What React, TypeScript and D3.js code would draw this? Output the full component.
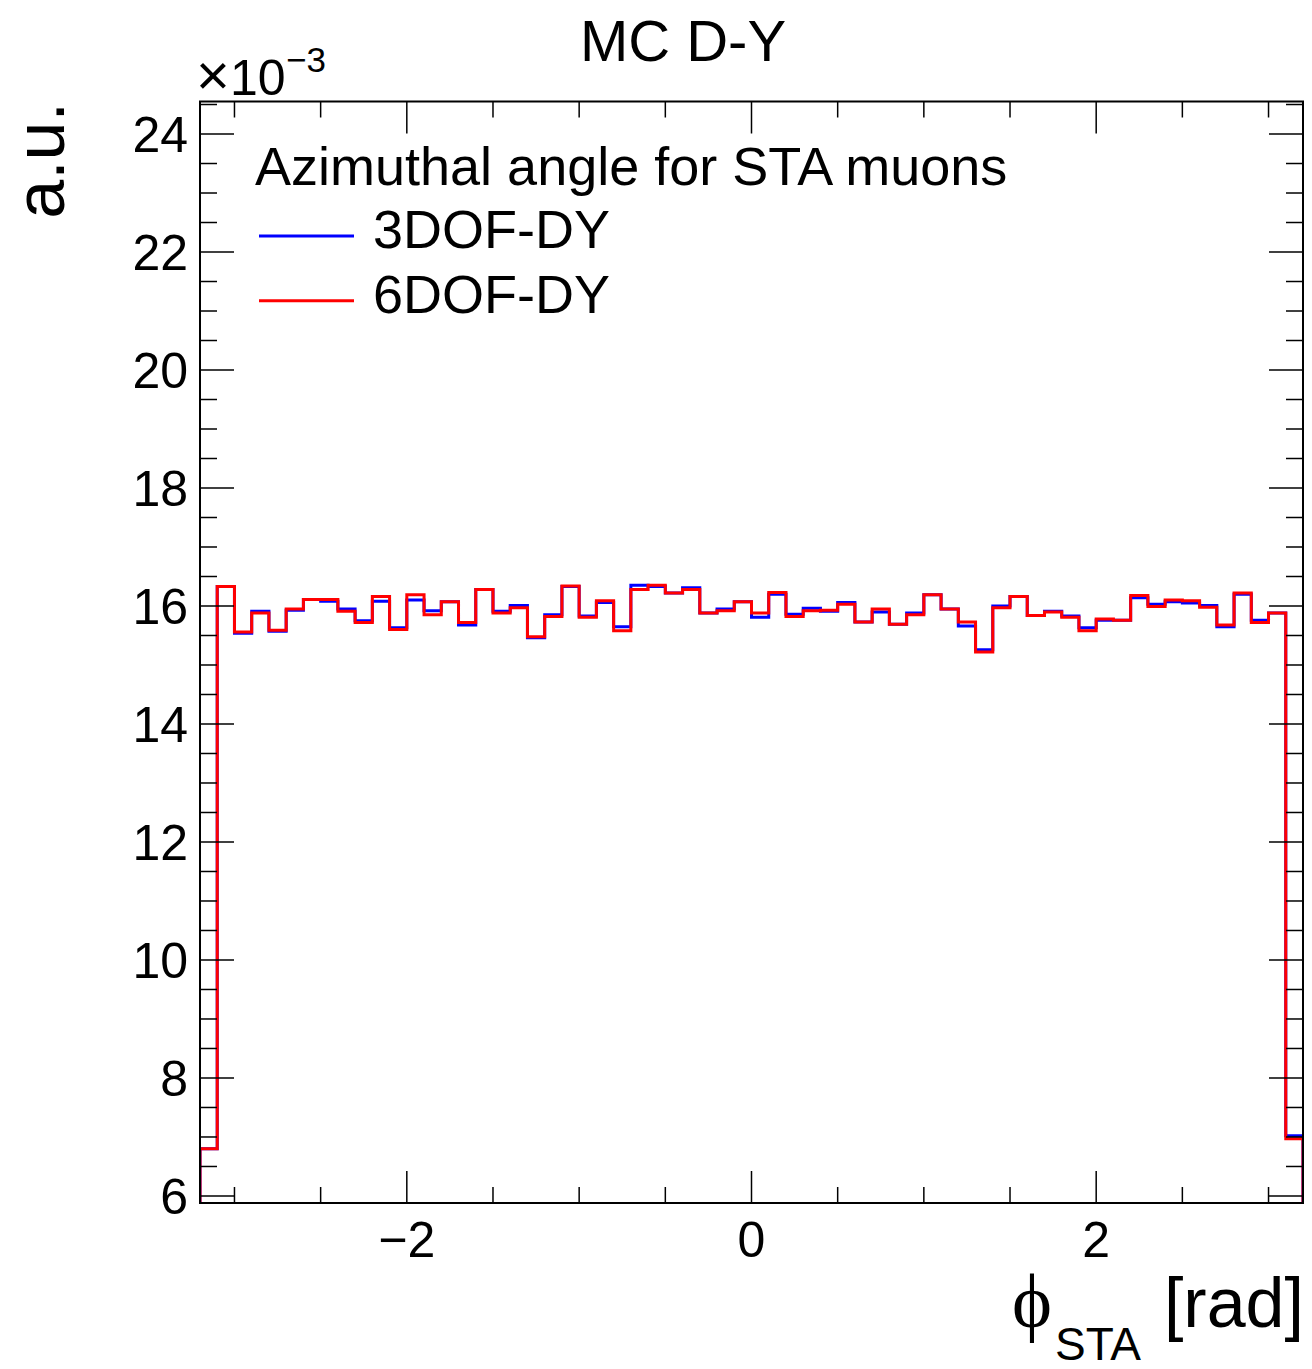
import React from "react";
import * as d3 from "d3";

// Histogram: 64 bins of width 0.1 from -3.2 to 3.2; values in units of 1e-3
const binEdgesStart = -3.2;
const binWidth = 0.1;
const dof3Values = [
  6.80, 16.33, 15.54, 15.91, 15.57, 15.93, 16.11, 16.08, 15.95, 15.75, 16.08, 15.63, 16.10, 15.92, 16.07, 15.68,
  16.28, 15.91, 16.01, 15.46, 15.85, 16.33, 15.83, 16.06, 15.65, 16.35, 16.33, 16.22, 16.31, 15.88, 15.95, 16.07,
  15.81, 16.20, 15.86, 15.96, 15.91, 16.06, 15.73, 15.90, 15.69, 15.88, 16.19, 15.95, 15.66, 15.26, 16.00, 16.16,
  15.84, 15.91, 15.83, 15.63, 15.76, 15.76, 16.14, 16.03, 16.07, 16.05, 16.01, 15.65, 16.20, 15.76, 15.88, 7.02,
];
const dof6Values = [
  6.80, 16.33, 15.56, 15.88, 15.59, 15.95, 16.11, 16.11, 15.91, 15.72, 16.16, 15.60, 16.19, 15.85, 16.07, 15.72,
  16.28, 15.88, 15.97, 15.48, 15.82, 16.34, 15.81, 16.09, 15.58, 16.28, 16.35, 16.22, 16.28, 15.88, 15.92, 16.07,
  15.88, 16.23, 15.82, 15.92, 15.93, 16.03, 15.73, 15.95, 15.69, 15.85, 16.19, 15.95, 15.73, 15.22, 15.97, 16.16,
  15.84, 15.90, 15.81, 15.58, 15.78, 15.76, 16.18, 15.99, 16.10, 16.09, 15.98, 15.68, 16.22, 15.72, 15.88, 6.97,
];
const seriesNames = ["3DOF-DY", "6DOF-DY"];
const seriesColors = ["#0000ff", "#ff0000"];
const xMajorTicks = [-2, 0, 2];
const yMajorTicks = [6, 8, 10, 12, 14, 16, 18, 20, 22, 24];
const xDomain = [-3.2, 3.2];
const yDomain = [5.881, 24.551];

const FONT = "'Liberation Sans', Arial, Helvetica, sans-serif";

export default function App() {
  const W = 1312, H = 1369;
  const left = 200, right = 1303, top = 101.5, bottom = 1203;
  const x = d3.scaleLinear().domain(xDomain).range([left, right]);
  const y = d3.scaleLinear().domain(yDomain).range([bottom, top]);

  const histPath = (vals: number[]) => {
    const pts: [number, number][] = [];
    pts.push([x(binEdgesStart), y(yDomain[0])]);
    vals.forEach((v, i) => {
      const x0 = binEdgesStart + i * binWidth;
      pts.push([x(x0), y(v)]);
      pts.push([x(x0 + binWidth), y(v)]);
    });
    pts.push([x(binEdgesStart + vals.length * binWidth), y(yDomain[0])]);
    return d3.line()(pts) as string;
  };

  const xMinor = d3.range(-3, 3.01, 0.5).filter((t) => !xMajorTicks.some((m) => Math.abs(m - t) < 1e-6));
  const yMinor = d3.range(6, 24.51, 0.5).filter((t) => !yMajorTicks.some((m) => Math.abs(m - t) < 1e-6));

  const xMajLen = 32, xMinLen = 16, yMajLen = 34, yMinLen = 17;

  return (
    <svg width={W} height={H} style={{ position: "absolute", left: 0, top: 0, background: "#fff" }} fontFamily={FONT}>
      <rect x={0} y={0} width={W} height={H} fill="#fff" />
      <defs>
        <clipPath id="plotclip">
          <rect x={left} y={top} width={right - left} height={bottom - top} />
        </clipPath>
      </defs>

      {/* histograms */}
      <g clipPath="url(#plotclip)" fill="none" strokeWidth={3} strokeLinejoin="miter">
        <path d={histPath(dof3Values)} stroke={seriesColors[0]} />
        <path d={histPath(dof6Values)} stroke={seriesColors[1]} />
      </g>

      {/* ticks */}
      <g stroke="#000" strokeWidth={1.5}>
        {xMajorTicks.map((t) => (
          <g key={"xm" + t}>
            <line x1={x(t)} x2={x(t)} y1={bottom} y2={bottom - xMajLen} />
            <line x1={x(t)} x2={x(t)} y1={top} y2={top + xMajLen} />
          </g>
        ))}
        {xMinor.map((t) => (
          <g key={"xn" + t}>
            <line x1={x(t)} x2={x(t)} y1={bottom} y2={bottom - xMinLen} />
            <line x1={x(t)} x2={x(t)} y1={top} y2={top + xMinLen} />
          </g>
        ))}
        {yMajorTicks.map((t) => (
          <g key={"ym" + t}>
            <line x1={left} x2={left + yMajLen} y1={y(t)} y2={y(t)} />
            <line x1={right} x2={right - yMajLen} y1={y(t)} y2={y(t)} />
          </g>
        ))}
        {yMinor.map((t) => (
          <g key={"yn" + t}>
            <line x1={left} x2={left + yMinLen} y1={y(t)} y2={y(t)} />
            <line x1={right} x2={right - yMinLen} y1={y(t)} y2={y(t)} />
          </g>
        ))}
      </g>

      {/* frame */}
      <rect x={left} y={top} width={right - left} height={bottom - top} fill="none" stroke="#000" strokeWidth={2} />

      {/* tick labels */}
      <g fontSize={50} fill="#000">
        {yMajorTicks.map((t) => (
          <text key={"yl" + t} x={188} y={y(t) + 18} textAnchor="end">{t}</text>
        ))}
        {xMajorTicks.map((t) => (
          <text key={"xl" + t} x={x(t)} y={1257} textAnchor="middle">{t < 0 ? "\u2212" + Math.abs(t) : String(t)}</text>
        ))}
      </g>

      {/* exponent */}
      <text x={196} y={95} fontSize={50} fill="#000"><tspan fontSize={58}>×</tspan>10</text>
      <text x={286} y={72} fontSize={35} fill="#000">−3</text>

      {/* title */}
      <text x={683} y={61} fontSize={58} textAnchor="middle" fill="#000">MC D-Y</text>

      {/* y axis title */}
      <text transform="translate(64,102) rotate(-90)" fontSize={70} textAnchor="end" fill="#000">a.u.</text>

      {/* x axis title */}
      <text x={1012} y={1327} fontSize={76} fill="#000" fontFamily="'Liberation Serif', 'DejaVu Serif', serif">ϕ</text>
      <text x={1055} y={1360} fontSize={46} fill="#000">STA</text>
      <text x={1304} y={1327} fontSize={70} textAnchor="end" fill="#000">[rad]</text>

      {/* legend */}
      <text x={255} y={185} fontSize={54} fill="#000">Azimuthal angle for STA muons</text>
      {seriesNames.map((n, i) => (
        <g key={n}>
          <line x1={259} x2={354} y1={236 + i * 64.7} y2={236 + i * 64.7} stroke={seriesColors[i]} strokeWidth={3} />
          <text x={373} y={248.3 + i * 64.4} fontSize={54} fill="#000">{n}</text>
        </g>
      ))}
    </svg>
  );
}
